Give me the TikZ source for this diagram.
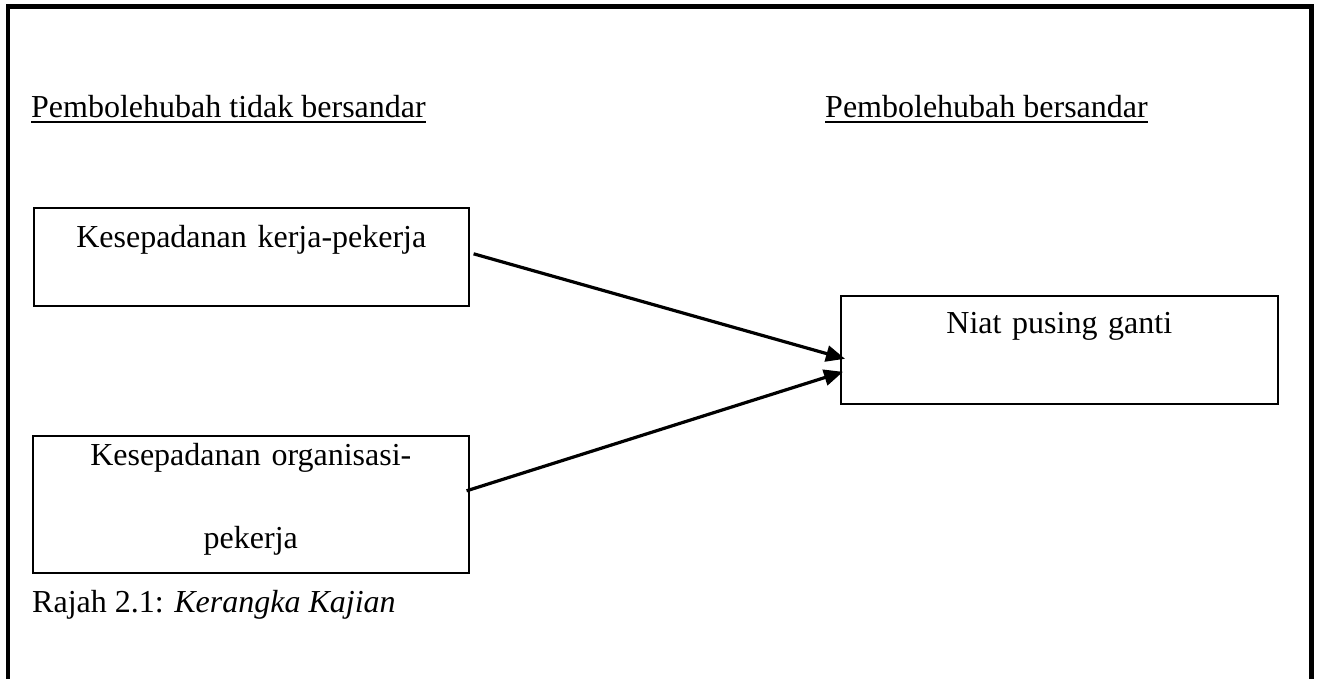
\documentclass[tikz,border=0pt]{standalone}
\usepackage{fontspec}
\setmainfont{Liberation Serif}
\usetikzlibrary{arrows.meta,calc}
\tikzset{
    boite/.style={draw,line width=1.6pt,inner sep=0pt,align=center},
    fleche/.style={line width=3.2pt,-{Triangle[length=19pt,width=16pt]}},
    titre/.style={inner sep=0pt,anchor=base west},
  }

\begin{document}
\begin{tikzpicture}[x=1pt,y=-1pt,font=\fontsize{32}{38}\selectfont]
				  %cadre
				  \useasboundingbox (0,0) rectangle (1319,678);
				  \draw[line width=4.5pt] (8,690) -- (8,6.5) -- (1311.5,6.5) -- (1311.5,690);
				  %titres soulignes
				  \node[titre](h1) at (31,117.5) {Pembolehubah tidak bersandar};
				  \node[titre](h2) at (825,117.5) {Pembolehubah bersandar};
				  \draw[line width=2pt] ([yshift=-4.5pt]h1.base west) -- ([yshift=-4.5pt]h1.base east);
				  \draw[line width=2pt] ([yshift=-4.5pt]h2.base west) -- ([yshift=-4.5pt]h2.base east);
				  %boites
				  \node[boite,anchor=north west,text width=435pt,text height=40pt,text depth=58pt](b1) at (33,207) {Kesepadanan kerja-pekerja};
				  \node[boite,anchor=north west,text width=436pt,text height=30pt,text depth=107pt,font=\fontsize{32}{83}\selectfont](b2) at (32,435) {Kesepadanan organisasi-\\pekerja};
				  \node[boite,anchor=north west,text width=437pt,text height=38pt,text depth=70pt](b3) at (840,295) {Niat pusing ganti};
				  \node[titre](cap) at (32,612) {Rajah 2.1: \textit{Kerangka Kajian}};
				  %fleches
				  \draw[fleche] ([xshift=4pt,yshift=3pt]b1.east) -- ([xshift=5pt,yshift=-9pt]b3.west);
				  \draw[fleche] ([xshift=-3pt,yshift=13.5pt]b2.east) -- ([xshift=3pt,yshift=-22pt]b3.west);
				  \end{tikzpicture}
\end{document}
